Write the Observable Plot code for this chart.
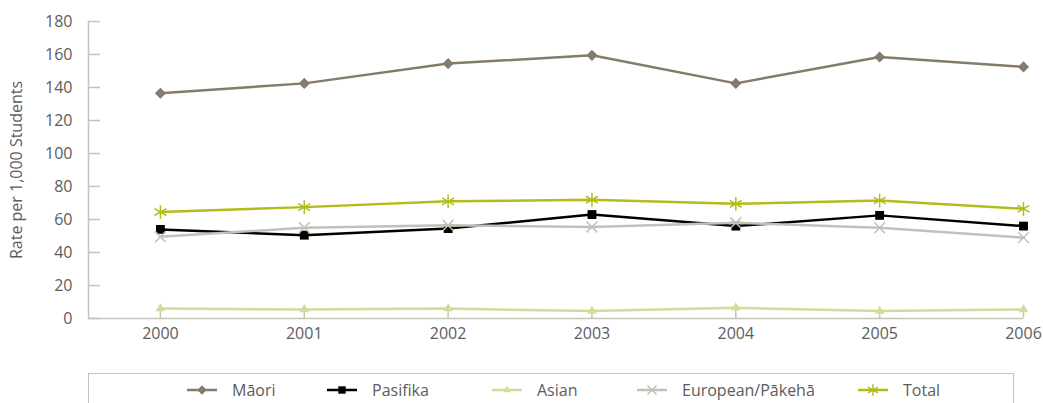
<!DOCTYPE html>
<html><head><meta charset="utf-8">
<script src="https://cdn.jsdelivr.net/npm/d3@7"></script>
<script src="https://cdn.jsdelivr.net/npm/@observablehq/plot@0.6"></script>
<style>
body{margin:0;background:#fff;font-family:"Open Sans",sans-serif;color:#5c5c5c}
#wrap{position:relative;width:1043px;height:403px;overflow:hidden}
#legend{position:absolute;left:88px;top:373px;width:926px;height:40px;border:1.5px solid #c8c3b8;box-sizing:border-box}
.item{position:absolute;top:0;height:32px;display:flex;align-items:center;font-size:16px;color:#5c5c5c}
.item svg{margin-right:15px}
</style></head>
<body><div id="wrap"><div id="chart"></div><div id="legend"></div></div>
<script>
const years = [2000, 2001, 2002, 2003, 2004, 2005, 2006];
const maori = [136.5, 142.5, 154.5, 159.5, 142.5, 158.5, 152.5];
const pasifika = [54, 50.5, 54.5, 63, 56, 62.5, 56];
const asian = [6, 5.5, 6, 4.5, 6.5, 4.5, 5.5];
const european = [49.5, 55, 56.5, 55.5, 58, 55, 49];
const total = [64.5, 67.5, 71, 72, 69.5, 71.5, 66.5];
const yTicks = [0, 20, 40, 60, 80, 100, 120, 140, 160, 180];

const series = [
  {name: "Māori", values: maori, color: "#857b6b", symbol: "diamond2", r: 5, fill: true, lx: 98},
  {name: "Pasifika", values: pasifika, color: "#000000", symbol: "square", r: 5, fill: true, lx: 238},
  {name: "Asian", values: asian, color: "#d5da9a", symbol: "triangle", r: 3.5, fill: true, lx: 403},
  {name: "European/Pākehā", values: european, color: "#c4c0b8", symbol: "times", r: 5, fill: false, lx: 548},
  {name: "Total", values: total, color: "#b4bc1c", symbol: "asterisk", r: 6.5, fill: false, lx: 769}
];
const axisColor = "#c8c3b8";

const marks = [
  Plot.ruleX([1999.5], {stroke: axisColor, strokeWidth: 1.5}),
  Plot.ruleY([0], {stroke: axisColor, strokeWidth: 1.5}),
  Plot.axisY({ticks: yTicks, tickSize: 12, dx: 12, tickFormat: () => "", label: null, stroke: axisColor, strokeWidth: 1.5}),
  Plot.axisY({ticks: yTicks, tickSize: 0, tickPadding: 16, label: "Rate per 1,000 Students", labelAnchor: "center", labelOffset: 78, labelArrow: "none"}),
  Plot.axisX({ticks: years, tickSize: 10, dy: -10, tickFormat: () => "", label: null, stroke: axisColor, strokeWidth: 1.5}),
  Plot.axisX({ticks: years, tickSize: 0, tickPadding: 9, tickFormat: d => String(d), label: null})
];
for (const s of series) {
  const d = years.map((y, i) => ({year: y, value: s.values[i]}));
  marks.push(Plot.line(d, {x: "year", y: "value", stroke: s.color, strokeWidth: 2.5}));
  marks.push(Plot.dot(d, {x: "year", y: "value", symbol: s.symbol, r: s.r,
    fill: s.fill ? s.color : "none", stroke: s.fill ? "none" : s.color, strokeWidth: 1.5}));
}

const chart = Plot.plot({
  width: 1043, height: 360,
  marginLeft: 88, marginRight: 20, marginTop: 21, marginBottom: 42,
  x: {type: "linear", domain: [1999.5, 2006]},
  y: {domain: [0, 180]},
  style: {fontFamily: "'Open Sans', sans-serif", fontSize: "16px", color: "#5c5c5c", background: "#fff"},
  marks
});
document.getElementById("chart").appendChild(chart);

const legend = d3.select("#legend");
for (const s of series) {
  const item = legend.append("div").attr("class", "item").style("left", s.lx + "px");
  const svg = item.append("svg").attr("width", 30).attr("height", 16);
  svg.append("line").attr("x1", 0).attr("x2", 30).attr("y1", 8).attr("y2", 8).attr("stroke", s.color).attr("stroke-width", 2.5);
  const symMap = {diamond2: d3.symbolDiamond2, square: d3.symbolSquare, triangle: d3.symbolTriangle, times: d3.symbolTimes, asterisk: d3.symbolAsterisk};
  svg.append("path").attr("transform", "translate(15,8)")
    .attr("d", d3.symbol(symMap[s.symbol], Math.PI * s.r * s.r * 0.7)())
    .attr("fill", s.fill ? s.color : "none").attr("stroke", s.fill ? "none" : s.color).attr("stroke-width", 1.5);
  item.append("span").text(s.name);
}
</script></body></html>
